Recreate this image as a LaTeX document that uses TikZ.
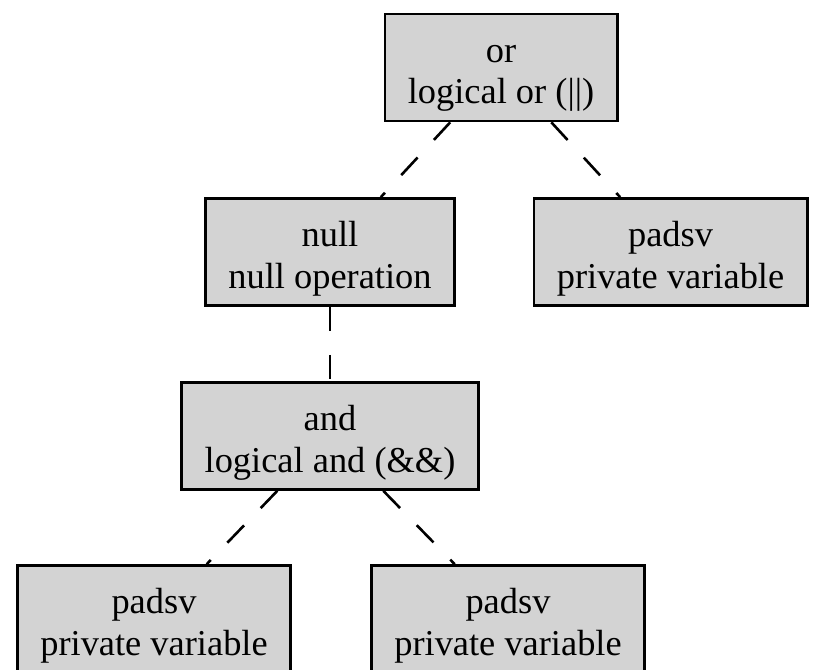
\documentclass[tikz,border=0pt]{standalone}
\usepackage{fontspec}
\setmainfont{Liberation Serif}
\definecolor{opgray}{HTML}{D3D3D3}

\begin{document}
\begin{tikzpicture}[x=0.5pt,y=-0.5pt,
  every node/.style={draw=black,line width=1.3pt,rectangle,fill=opgray,align=center,
    inner xsep=11.5pt,inner ysep=0pt,minimum height=53.5pt,
    text height=40pt,text depth=4pt,
    font=\fontsize{18.2}{20.75}\selectfont},
  opedge/.style={line width=1.3pt,dash pattern=on 12pt off 12pt}]
                \useasboundingbox (0,0) rectangle (817,669);

                \node (or) at (501,67.5) {or\\logical or (||)};
                \node (null) at (330,252) {null\\null operation};
                \node (padsv1) at (670.5,252) {padsv\\private variable};
                \node (and) at (330,436) {and\\logical and (\&\&)};
                \node (padsv2) at (154,619) {padsv\\private variable};
                \node (padsv3) at (508,619) {padsv\\private variable};

                \path [opedge] (or) edge (null);
                \path [opedge] (or) edge (padsv1);
                \path [opedge] (null) edge (and);
                \path [opedge] (and) edge (padsv2);
                \path [opedge] (and) edge (padsv3);
            \end{tikzpicture}
\end{document}
